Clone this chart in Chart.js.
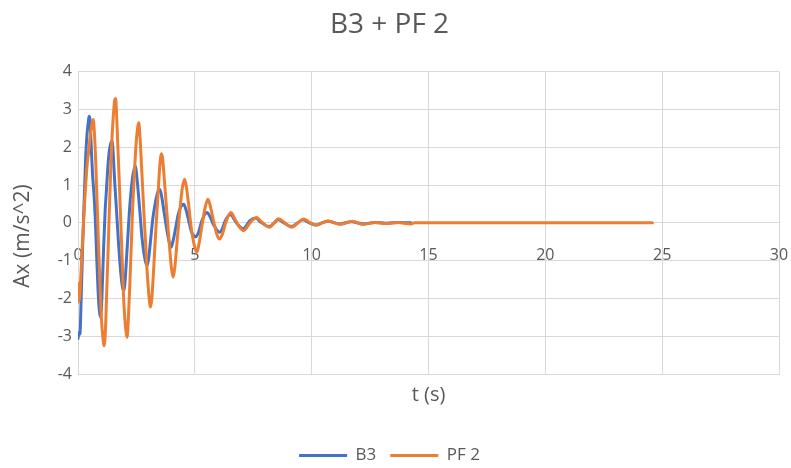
<!DOCTYPE html>
<html>
<head>
<meta charset="utf-8">
<script src="https://cdn.jsdelivr.net/npm/chart.js@4/dist/chart.umd.min.js"></script>
<style>
  html, body { margin: 0; padding: 0; background: #ffffff; }
  #wrap { width: 791px; height: 468px; }
</style>
</head>
<body>
<div id="wrap"><canvas id="c" width="791" height="468"></canvas></div>
<script>
// Accelerometer traces (time in s, acceleration in m/s^2)
const b3Time = [0.00, 0.04, 0.08, 0.14, 0.20, 0.26, 0.32, 0.38, 0.43, 0.47, 0.51, 0.56, 0.62, 0.68, 0.74, 0.80, 0.86, 0.91, 0.96, 1.00,
  1.05, 1.10, 1.16, 1.22, 1.28, 1.34, 1.40, 1.46, 1.51, 1.56, 1.62, 1.68, 1.74, 1.80, 1.86, 1.92, 1.96, 2.02, 2.08, 2.14,
  2.20, 2.28, 2.36, 2.42, 2.46, 2.52, 2.58, 2.66, 2.74, 2.82, 2.90, 2.96, 3.02, 3.10, 3.20, 3.30, 3.42, 3.50, 3.58, 3.68,
  3.78, 3.88, 3.98, 4.06, 4.16, 4.28, 4.40, 4.52, 4.62, 4.74, 4.86, 5.04, 5.16, 5.30, 5.52, 5.66, 5.80, 6.06, 6.20, 6.30,
  6.52, 6.66, 6.80, 7.08, 7.20, 7.35, 7.62, 7.80, 8.18, 8.40, 8.58, 8.80, 9.13, 9.40, 9.62, 9.90, 10.20, 10.45, 10.70, 11.20,
  11.70, 12.20, 12.70, 13.20, 13.70, 14.25];
const b3Accel = [-3.06, -2.90, -2.95, -1.90, -0.60, 0.50, 1.60, 2.30, 2.60, 2.82, 2.75, 2.10, 1.30, 0.80, 0.10, -0.90, -1.80, -2.30, -2.50, -2.30,
  -1.50, -0.60, 0.30, 0.90, 1.50, 1.90, 2.10, 2.16, 1.80, 1.20, 0.60, 0.00, -0.60, -1.10, -1.50, -1.75, -1.79, -1.50, -0.90, -0.30,
  0.30, 0.90, 1.30, 1.45, 1.50, 1.20, 0.80, 0.20, -0.40, -0.80, -1.05, -1.13, -0.95, -0.50, 0.10, 0.50, 0.82, 0.89, 0.70, 0.30,
  -0.10, -0.45, -0.65, -0.50, -0.20, 0.20, 0.42, 0.49, 0.35, 0.05, -0.25, -0.37, -0.25, 0.05, 0.27, 0.15, -0.05, -0.25, -0.12, 0.05,
  0.22, 0.12, -0.02, -0.16, -0.08, 0.05, 0.13, 0.03, -0.10, 0.00, 0.09, 0.00, -0.10, 0.00, 0.08, 0.00, -0.06, 0.00, 0.04, -0.03,
  0.03, -0.03, 0.01, -0.01, 0.01, 0.00];

const pf2Time = [0.00, 0.03, 0.06, 0.10, 0.16, 0.22, 0.28, 0.34, 0.40, 0.46, 0.52, 0.58, 0.65, 0.70, 0.76, 0.82, 0.88, 0.94, 1.00, 1.06,
  1.12, 1.17, 1.22, 1.28, 1.34, 1.40, 1.46, 1.52, 1.57, 1.61, 1.65, 1.70, 1.76, 1.82, 1.88, 1.94, 2.00, 2.06, 2.10, 2.15,
  2.22, 2.28, 2.34, 2.42, 2.50, 2.56, 2.60, 2.65, 2.72, 2.80, 2.88, 2.96, 3.04, 3.10, 3.16, 3.24, 3.32, 3.42, 3.50, 3.57,
  3.62, 3.70, 3.80, 3.90, 4.00, 4.07, 4.14, 4.24, 4.34, 4.46, 4.56, 4.64, 4.74, 4.84, 4.96, 5.09, 5.18, 5.30, 5.44, 5.56,
  5.66, 5.80, 5.94, 6.06, 6.18, 6.32, 6.54, 6.70, 6.86, 7.09, 7.25, 7.40, 7.65, 7.85, 8.20, 8.40, 8.58, 8.85, 9.15, 9.40,
  9.65, 9.95, 10.20, 10.45, 10.70, 11.20, 11.75, 12.20, 12.70, 13.20, 13.70, 14.25, 14.40, 16.00, 18.00, 20.00, 22.00, 24.58];
const pf2Accel = [-2.10, -1.60, -2.05, -1.70, -0.90, -0.20, 0.50, 1.10, 1.60, 1.90, 2.30, 2.55, 2.73, 2.40, 1.60, 0.50, -0.60, -1.60, -2.50, -3.00,
  -3.25, -2.90, -2.00, -0.90, 0.30, 1.40, 2.30, 2.90, 3.25, 3.29, 2.90, 2.10, 1.20, 0.20, -0.80, -1.80, -2.50, -2.90, -3.03, -2.60,
  -1.60, -0.60, 0.40, 1.40, 2.20, 2.55, 2.65, 2.30, 1.50, 0.50, -0.40, -1.30, -1.95, -2.23, -2.00, -1.20, -0.30, 0.70, 1.50, 1.83,
  1.70, 1.10, 0.30, -0.50, -1.20, -1.44, -1.20, -0.50, 0.20, 0.90, 1.15, 0.95, 0.45, -0.10, -0.55, -0.78, -0.55, -0.10, 0.40, 0.62,
  0.45, 0.05, -0.30, -0.43, -0.30, 0.00, 0.27, 0.12, -0.07, -0.21, -0.10, 0.03, 0.14, 0.03, -0.12, 0.00, 0.11, 0.00, -0.12, -0.01,
  0.10, 0.00, -0.06, 0.00, 0.05, -0.04, 0.04, -0.04, 0.01, -0.02, 0.01, -0.03, 0.00, 0.00, 0.00, 0.00, 0.00, 0.00];

const seriesNames = ['B3', 'PF 2'];
const seriesColors = ['#4472C4', '#ED7D31'];
const chartTitle = 'B3 + PF 2';
const xTitle = 't (s)';
const yTitle = 'Ax (m/s^2)';

const toPoints = (ts, vs) => ts.map((t, i) => ({ x: t, y: vs[i] }));

const textColor = '#595959';
const gridColor = '#d9d9d9';
const fontFamily = '"Open Sans", "Noto Sans", sans-serif';

new Chart(document.getElementById('c'), {
  type: 'line',
  data: {
    datasets: [
      // PF 2 is painted over B3
      { label: seriesNames[0], data: toPoints(b3Time, b3Accel), borderColor: seriesColors[0], backgroundColor: seriesColors[0], order: 2 },
      { label: seriesNames[1], data: toPoints(pf2Time, pf2Accel), borderColor: seriesColors[1], backgroundColor: seriesColors[1], order: 1 }
    ]
  },
  options: {
    responsive: false,
    animation: false,
    parsing: false,
    elements: {
      line: { borderWidth: 3, tension: 0.3, cubicInterpolationMode: 'monotone', borderCapStyle: 'round', borderJoinStyle: 'round' },
      point: { radius: 0, hoverRadius: 0 }
    },
    layout: { padding: { left: 0, right: 12, top: 8, bottom: -6 } },
    scales: {
      // bottom axis: grid, border and axis title only
      x: {
        type: 'linear', min: 0, max: 30,
        ticks: { display: false, stepSize: 5 },
        grid: { color: gridColor, drawTicks: false },
        border: { color: gridColor },
        title: { display: true, text: xTitle, color: textColor, font: { family: fontFamily, size: 20 }, padding: { top: 0, bottom: 26 } },
        afterFit: (s) => { s.height = 59; }
      },
      // tick labels sitting under the zero line
      xz: {
        type: 'linear', min: 0, max: 30,
        position: { y: 0 },
        ticks: { stepSize: 5, color: textColor, font: { family: fontFamily, size: 16 }, padding: 0 },
        grid: { display: false, drawTicks: true, tickLength: 23 },
        border: { display: false }
      },
      y: {
        type: 'linear', min: -4, max: 4,
        ticks: { stepSize: 1, color: textColor, font: { family: fontFamily, size: 16 }, padding: 6 },
        grid: { color: gridColor, drawTicks: false },
        border: { color: gridColor },
        title: { display: true, text: yTitle + '\u2003 ', color: textColor, font: { family: fontFamily, size: 21 }, padding: { top: 10, bottom: 0 } },
        afterFit: (s) => { s.width = 78; }
      }
    },
    plugins: {
      title: {
        display: true, text: chartTitle, color: textColor,
        font: { family: fontFamily, size: 28, weight: 'normal' },
        padding: { top: 0, bottom: 30 }
      },
      legend: {
        position: 'bottom',
        labels: {
          color: textColor, font: { family: fontFamily, size: 17 },
          usePointStyle: true, pointStyleWidth: 48, padding: 14,
          generateLabels: (chart) => chart.data.datasets.map((ds, i) => ({
            text: ds.label,
            fillStyle: seriesColors[i],
            strokeStyle: seriesColors[i],
            lineWidth: 3,
            pointStyle: 'line',
            hidden: false,
            datasetIndex: i,
            fontColor: textColor
          }))
        }
      },
      tooltip: { enabled: false }
    }
  }
});
</script>
</body>
</html>
